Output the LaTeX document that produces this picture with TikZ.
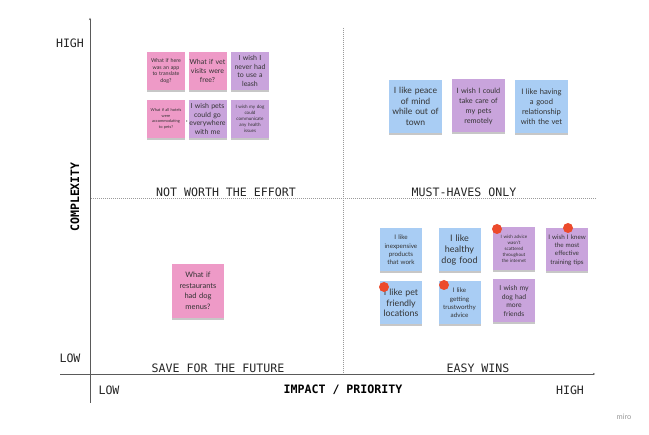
\documentclass[tikz,border=0pt]{standalone}
\usepackage{fontspec}
\setmainfont{Lato}
\newfontfamily\monof{DejaVu Sans Mono}
\usetikzlibrary{shadows,arrows.meta}
\definecolor{spink}{HTML}{EE9AC7}
\definecolor{spurple}{HTML}{C9A4DC}
\definecolor{sblue}{HTML}{A9CDF4}
\definecolor{sred}{HTML}{EC4A2C}
\definecolor{axisc}{HTML}{5A5A5A}
\definecolor{divc}{HTML}{9A9A9A}
\definecolor{stext}{HTML}{333333}
\tikzset{
  sticky/.style={rectangle, inner sep=0pt, align=center, text=stext,
    drop shadow={shadow xshift=0pt, shadow yshift=-2pt, fill=black, opacity=0.22}},
  smallsq/.style={sticky, minimum width=38pt, minimum height=38pt, text width=37pt},
  bigsq/.style={sticky, minimum width=53pt, minimum height=53pt, text width=51pt},
  midsq/.style={sticky, minimum width=42pt, minimum height=43pt, text width=41pt},
  pin/.style={circle, fill=sred, minimum size=10pt, inner sep=0pt},
  axisline/.style={draw=axisc, line width=0.8pt},
  divline/.style={draw=divc, line width=0.6pt, dash pattern=on 1pt off 1pt},
  qlabel/.style={font=\monof\fontsize{11.6}{13}\selectfont, text=black!85, inner sep=0pt},
  alabel/.style={font=\monof\fontsize{11.6}{13}\selectfont, text=black!85, inner sep=0pt},
  blabel/.style={font=\monof\bfseries\fontsize{11.6}{13}\selectfont, text=black, inner sep=0pt},
}
\begin{document}
\begin{tikzpicture}[x=1pt,y=-1pt]
\useasboundingbox[fill=white] (0,0) rectangle (649,435);
% axes
\coordinate (xa) at (60,374);
\coordinate (xb) at (595,374);
\coordinate (ya) at (90,403);
\coordinate (yb) at (90,18);
\draw[axisline, -{Stealth[length=2pt,width=2pt]}] (xa) -- (xb);
\draw[axisline, -{Stealth[length=2pt,width=2pt]}] (ya) -- (yb);
% dividers
\coordinate (va) at (343,28);
\coordinate (vb) at (343,374);
\coordinate (ha) at (91,198);
\coordinate (hb) at (597,198);
\draw[divline] (va) -- (vb);
\draw[divline] (ha) -- (hb);
% axis labels
\node[alabel] (yhigh) at (70,43) {HIGH};
\node[alabel] (ylow) at (70,358) {LOW};
\node[blabel, rotate=90] (ytitle) at (75,197) {COMPLEXITY};
\node[alabel] (xlow) at (109,390) {LOW};
\node[blabel] (xtitle) at (343,390) {IMPACT / PRIORITY};
\node[alabel] (xhigh) at (570,390) {HIGH};
\node[font=\fontsize{7.5}{9}\selectfont, text=black!40, inner sep=0pt] (miro) at (624,417) {miro};
% quadrant labels
\node[qlabel] (q1) at (226,192) {NOT WORTH THE EFFORT};
\node[qlabel] (q2) at (464,192) {MUST-HAVES ONLY};
\node[qlabel] (q3) at (218,368) {SAVE FOR THE FUTURE};
\node[qlabel] (q4) at (478,368) {EASY WINS};
% top-left stickies
\node[smallsq, fill=spink, font=\fontsize{5.3}{6.6}\selectfont] (s1) at (166,71) {What if here\\was an app\\to translate\\dog?};
\node[smallsq, fill=spink, font=\fontsize{7}{8.8}\selectfont] (s2) at (207.5,71) {What if vet\\visits were\\free?};
\node[smallsq, fill=spurple, font=\fontsize{7}{8.8}\selectfont] (s3) at (250,71) {I wish I\\never had\\to use a\\leash};
\node[smallsq, fill=spink, font=\fontsize{4}{5.6}\selectfont] (s4) at (166,119) {What if all hotels\\were\\accommodating\\to pets?};
\node[smallsq, fill=spurple, font=\fontsize{7}{8.8}\selectfont] (s5) at (207.5,119) {I wish pets\\could go\\everywhere\\with me};
\node[smallsq, fill=spurple, font=\fontsize{4.6}{6}\selectfont] (s6) at (250,119) {I wish my dog\\could\\communicate\\any health\\issues};
\fill[black!80] (s4.east) ++(1.5,2) circle (0.6pt);
% top-right stickies
\node[bigsq, fill=sblue, font=\fontsize{8.6}{10.6}\selectfont] (t1) at (415.5,106.5) {I like peace\\of mind\\while out of\\town};
\node[bigsq, fill=spurple, font=\fontsize{7.3}{10}\selectfont] (t2) at (478.5,106) {I wish I could\\take care of\\my pets\\remotely};
\node[bigsq, fill=sblue, font=\fontsize{7.6}{10}\selectfont] (t3) at (541.5,106.5) {I like having\\a good\\relationship\\with the vet};
% bottom-right stickies
\node[midsq, fill=sblue, font=\fontsize{6.3}{8.2}\selectfont] (b1) at (401,250) {I like\\inexpensive\\products\\that work};
\node[midsq, fill=sblue, font=\fontsize{9}{11}\selectfont] (b2) at (459.5,250) {I like\\healthy\\dog food};
\node[midsq, fill=spurple, font=\fontsize{4.6}{6}\selectfont] (b3) at (514,249) {I wish advice\\wasn't\\scattered\\throughout\\the internet};
\node[midsq, fill=spurple, font=\fontsize{6.3}{8.2}\selectfont] (b4) at (567,250) {I wish I knew\\the most\\effective\\training tips};
\node[midsq, fill=sblue, font=\fontsize{8.8}{10.5}\selectfont] (b5) at (401,303) {I like pet\\friendly\\locations};
\node[midsq, fill=sblue, font=\fontsize{6.3}{8.2}\selectfont] (b6) at (459.5,303) {I like\\getting\\trustworthy\\advice};
\node[midsq, fill=spurple, font=\fontsize{6.8}{8.6}\selectfont] (b7) at (514,301) {I wish my\\dog had\\more\\friends};
\node[pin] (p1) at (497,229) {};
\node[pin] (p2) at (568,228) {};
\node[pin] (p3) at (384,287) {};
\node[pin] (p4) at (444,285) {};
% bottom-left sticky
\node[sticky, fill=spink, minimum width=52pt, minimum height=54pt, text width=51pt, font=\fontsize{7.5}{10.5}\selectfont] (l1) at (198,291) {What if\\restaurants\\had dog\\menus?};
\end{tikzpicture}
\end{document}
